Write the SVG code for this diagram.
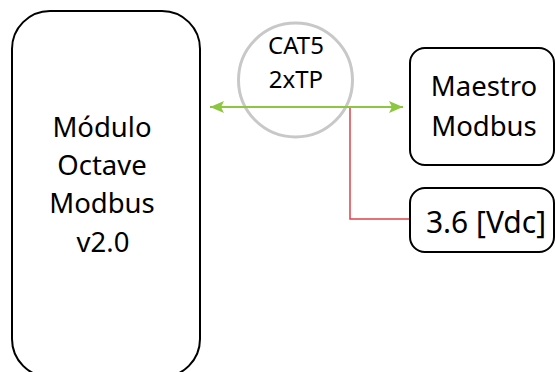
<svg xmlns="http://www.w3.org/2000/svg" width="555" height="372" viewBox="0 0 555 372">
<style>
.box{fill:#fff;stroke:#000;stroke-width:2}
.t{font-family:"Noto Sans",sans-serif;fill:#000;text-anchor:middle}
.c{fill:none;stroke:#c8c8c8;stroke-width:3}
.g{stroke:#8dc63f;stroke-width:2;fill:none}
.r{stroke:#e0404a;stroke-width:1.5;fill:none}
</style>
<defs>
<marker id="ah" viewBox="0 0 14 12" refX="14" refY="6" markerWidth="14" markerHeight="12" markerUnits="userSpaceOnUse" orient="auto-start-reverse">
<path d="M0,0 L14,6 L0,12 L3,6 Z" fill="#8dc63f"/>
</marker>
</defs>
<g id="modulo">
<rect class="box" x="12" y="11" width="188" height="366" rx="38" ry="38"/>
<text class="t" font-size="27.5"><tspan x="102" y="137">Módulo</tspan><tspan x="102" y="175">Octave</tspan><tspan x="102" y="213">Modbus</tspan><tspan x="103" y="252">v2.0</tspan></text>
</g>
<g id="cable">
<circle class="c" cx="295.5" cy="80" r="57"/>
<text class="t" font-size="24"><tspan x="296" y="54">CAT5</tspan><tspan x="296" y="88">2xTP</tspan></text>
</g>
<g id="connectors">
<path class="r" d="M350,107 V219 H410"/>
<line class="g" x1="210" y1="107" x2="403" y2="107" marker-start="url(#ah)" marker-end="url(#ah)"/>
</g>
<g id="maestro">
<rect class="box" x="410" y="48" width="144" height="117" rx="15" ry="15"/>
<text class="t" font-size="27.5"><tspan x="484" y="96">Maestro</tspan><tspan x="484" y="136">Modbus</tspan></text>
</g>
<g id="vdc">
<rect class="box" x="410" y="188" width="144" height="64" rx="15" ry="15"/>
<text class="t" font-size="30" x="486" y="233">3.6 [Vdc]</text>
</g>
</svg>
